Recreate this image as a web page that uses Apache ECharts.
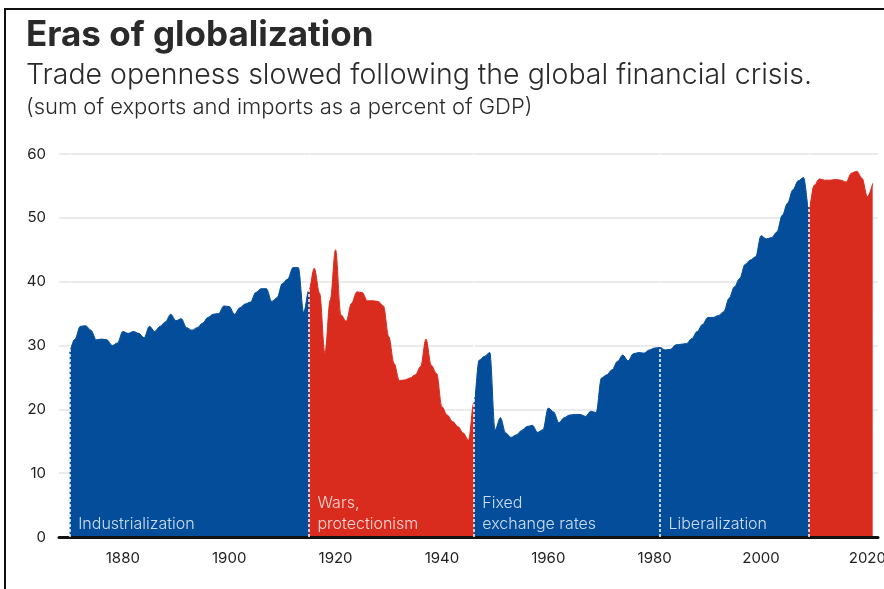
<!DOCTYPE html>
<html>
<head>
<meta charset="utf-8">
<title>Eras of globalization</title>
<script src="https://cdn.jsdelivr.net/npm/echarts@6/dist/echarts.min.js"></script>
<style>
  html, body { margin: 0; padding: 0; background: #fff; }
  #main { width: 884px; height: 589px; }
</style>
</head>
<body>
<div id="main"></div>
<script>
// trade openness, % of GDP, one value per year
const years = [
  1870, 1871, 1872, 1873, 1874, 1875, 1876, 1877, 1878, 1879,
  1880, 1881, 1882, 1883, 1884, 1885, 1886, 1887, 1888, 1889,
  1890, 1891, 1892, 1893, 1894, 1895, 1896, 1897, 1898, 1899,
  1900, 1901, 1902, 1903, 1904, 1905, 1906, 1907, 1908, 1909,
  1910, 1911, 1912, 1913, 1914, 1915, 1916, 1917, 1918, 1919,
  1920, 1921, 1922, 1923, 1924, 1925, 1926, 1927, 1928, 1929,
  1930, 1931, 1932, 1933, 1934, 1935, 1936, 1937, 1938, 1939,
  1940, 1941, 1942, 1943, 1944, 1945, 1946, 1947, 1948, 1949,
  1950, 1951, 1952, 1953, 1954, 1955, 1956, 1957, 1958, 1959,
  1960, 1961, 1962, 1963, 1964, 1965, 1966, 1967, 1968, 1969,
  1970, 1971, 1972, 1973, 1974, 1975, 1976, 1977, 1978, 1979,
  1980, 1981, 1982, 1983, 1984, 1985, 1986, 1987, 1988, 1989,
  1990, 1991, 1992, 1993, 1994, 1995, 1996, 1997, 1998, 1999,
  2000, 2001, 2002, 2003, 2004, 2005, 2006, 2007, 2008, 2009,
  2010, 2011, 2012, 2013, 2014, 2015, 2016, 2017, 2018, 2019,
  2020, 2021
];
const openness = [
  28.8, 31.0, 33.0, 33.1, 32.4, 30.9, 31.0, 30.9, 30.0, 30.4,
  32.2, 31.9, 32.2, 31.9, 31.2, 33.0, 32.2, 33.0, 33.7, 34.9,
  33.9, 34.2, 32.8, 32.4, 32.8, 33.5, 34.4, 34.9, 35.0, 36.2,
  36.1, 34.9, 35.9, 36.5, 36.8, 38.3, 38.9, 38.9, 36.9, 37.5,
  39.7, 40.4, 42.2, 42.2, 35.2, 38.7, 42.1, 38.2, 28.8, 37.1,
  45.0, 34.8, 33.8, 36.6, 38.4, 38.3, 37.0, 37.0, 36.9, 36.2,
  31.4, 27.2, 24.5, 24.6, 24.9, 25.4, 26.7, 31.0, 26.9, 25.6,
  20.4, 19.1, 18.1, 17.3, 16.3, 15.2, 21.0, 27.7, 28.3, 28.9,
  16.8, 18.7, 16.3, 15.6, 16.0, 16.7, 17.3, 17.5, 16.4, 16.8,
  20.2, 19.6, 17.9, 18.7, 19.1, 19.2, 19.2, 18.9, 19.7, 19.5,
  24.9, 25.4, 26.2, 27.5, 28.5, 27.6, 28.7, 28.9, 28.8, 29.3,
  29.6, 29.7, 29.3, 29.4, 30.1, 30.2, 30.3, 31.1, 32.2, 33.3,
  34.4, 34.4, 34.7, 35.3, 37.4, 39.2, 40.5, 42.7, 43.4, 43.9,
  47.2, 46.7, 46.9, 47.8, 50.4, 52.3, 54.4, 55.8, 56.3, 51.5,
  55.1, 56.1, 55.9, 55.9, 56.0, 55.9, 55.6, 57.0, 57.3, 56.2,
  53.3, 55.4
];

// era boundaries (white dashed lines) and their names
const eraBreaks = [1870, 1915, 1946, 1981, 2009];
const eraNames = ['Industrialization', 'Wars,\nprotectionism', 'Fixed\nexchange rates', 'Liberalization'];
const xTickLabels = [1880, 1900, 1920, 1940, 1960, 1980, 2000, 2020];

const BLUE = '#034d9a';
const RED = '#d92b1e';
const FONT = 'Inter, Lato, sans-serif';

const chart = echarts.init(document.getElementById('main'));

chart.setOption({
  animation: false,
  backgroundColor: '#fff',
  title: [
    {
      text: 'Eras of globalization',
      left: 26, top: 18, padding: 0,
      textStyle: { fontFamily: FONT, fontWeight: 'bold', fontSize: 35, color: '#2a2a2a' }
    },
    {
      text: 'Trade openness slowed following the global financial crisis.',
      left: 26, top: 61, padding: 0,
      textStyle: { fontFamily: FONT, fontWeight: 300, fontSize: 28.5, color: '#2a2a2a' }
    },
    {
      text: '(sum of exports and imports as a percent of GDP)',
      left: 26, top: 96, padding: 0,
      textStyle: { fontFamily: FONT, fontWeight: 300, fontSize: 22, color: '#2a2a2a' }
    }
  ],
  graphic: [
    {
      type: 'rect', silent: true,
      shape: { x: 5, y: 9, width: 900, height: 600 },
      style: { fill: 'none', stroke: '#111', lineWidth: 2 }
    }
  ],
  grid: { left: 59, right: 6, top: 154, bottom: 52, outerBoundsMode: 'none' },
  xAxis: {
    type: 'value',
    min: 1868,
    max: 2022,
    z: 3,
    axisLine: { show: true, onZero: true, lineStyle: { color: '#111', width: 3 } },
    axisTick: { show: false },
    splitLine: { show: false },
    axisLabel: {
      customValues: xTickLabels,
      formatter: v => String(v),
      color: '#222', fontSize: 15, margin: 14, fontFamily: FONT
    }
  },
  yAxis: {
    type: 'value',
    min: 0,
    max: 60,
    interval: 10,
    axisLine: { show: false },
    axisTick: { show: false },
    splitLine: { lineStyle: { color: '#ebebeb', width: 2 } },
    axisLabel: { color: '#222', fontSize: 15, margin: 13, fontFamily: FONT }
  },
  visualMap: {
    show: false,
    type: 'piecewise',
    seriesIndex: 0,
    dimension: 0,
    pieces: [
      { lt: eraBreaks[1], color: BLUE },
      { gte: eraBreaks[1], lt: eraBreaks[2], color: RED },
      { gte: eraBreaks[2], lt: eraBreaks[4], color: BLUE },
      { gte: eraBreaks[4], color: RED }
    ]
  },
  series: [
    {
      type: 'line',
      data: years.map((y, i) => [y, openness[i]]),
      showSymbol: false,
      smooth: 0.35,
      smoothMonotone: 'x',
      lineStyle: { width: 1 },
      areaStyle: { opacity: 1 },
      z: 2,
      markLine: {
        silent: true,
        symbol: 'none',
        label: { show: false },
        lineStyle: { color: '#fff', type: [3, 2], width: 1.5 },
        data: eraBreaks.map(x => ({ xAxis: x }))
      }
    },
    {
      // era names sitting just right of each boundary line
      type: 'scatter',
      data: eraNames.map((n, i) => [eraBreaks[i], 0]),
      symbolSize: 1,
      silent: true,
      z: 4,
      itemStyle: { color: 'transparent' },
      label: {
        show: true,
        formatter: p => eraNames[p.dataIndex],
        position: [9, -2],
        align: 'left',
        verticalAlign: 'bottom',
        color: '#fff',
        fontSize: 16,
        fontWeight: 300,
        lineHeight: 21,
        fontFamily: FONT
      }
    }
  ]
});
</script>
</body>
</html>
